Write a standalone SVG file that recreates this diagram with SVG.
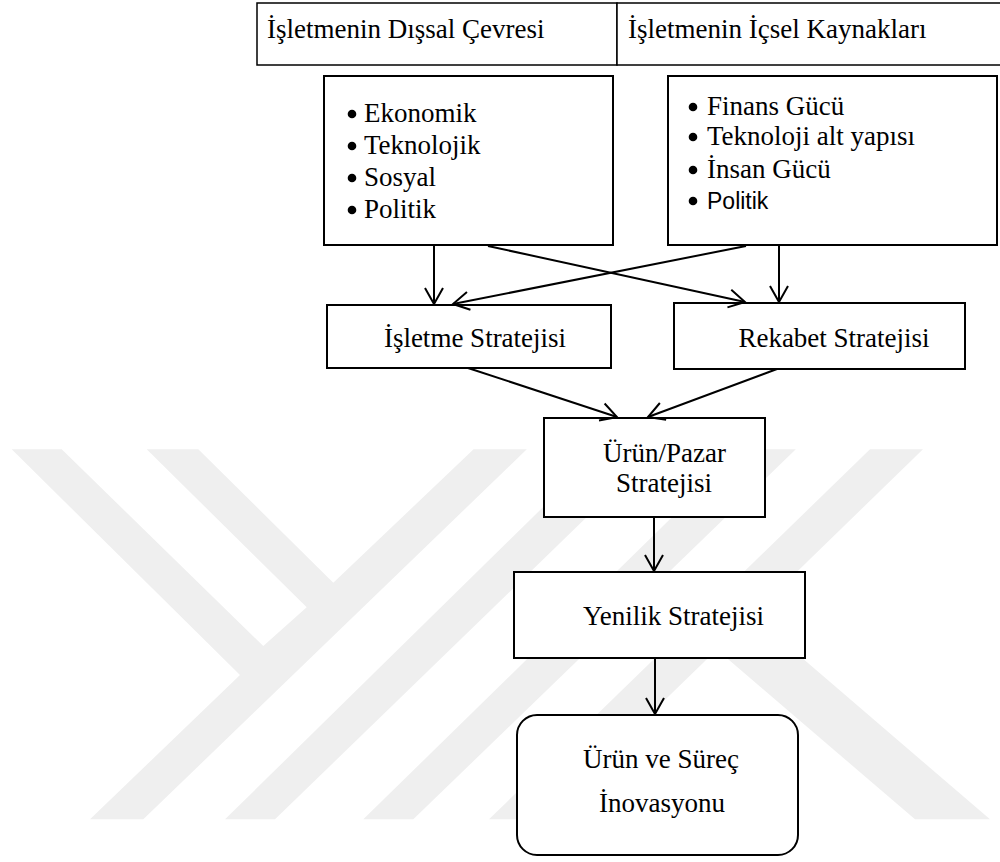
<svg xmlns="http://www.w3.org/2000/svg" width="1000" height="862" viewBox="0 0 1000 862">
<style>
.box{fill:#fff;stroke:#000;stroke-width:2}
.hdr{fill:#fff;stroke:#000;stroke-width:1.5}
.t{font-family:"Liberation Serif","Times New Roman",serif;font-size:27px;fill:#000}
.s{font-family:"Liberation Sans",Arial,sans-serif;font-size:23px;fill:#000}
.c{stroke:#000;stroke-width:2;fill:none;marker-end:url(#ah)}
.wm{fill:#efefef}
</style>
<defs>
<marker id="ah" viewBox="-18 -11 20 22" refX="0" refY="0" markerWidth="20" markerHeight="22" markerUnits="userSpaceOnUse" orient="auto">
<path d="M-16,-9 L0,0 L-16,9" fill="none" stroke="#000" stroke-width="2"/>
</marker>
</defs>
<rect width="1000" height="862" fill="#fff"/>
<g id="watermark">
<polygon class="wm" points="11.7,449.3 61.7,449.3 263.3,646 306.7,607.3 146.7,449.3 198.3,449.3 333.3,582.7 473.6,449.3 526.8,449.3 143.3,819.3 90,819.3 240,675"/>
<polygon class="wm" points="225,819.3 275,819.3 656.7,449.3 602,449.3"/>
<polygon class="wm" points="363.3,819.3 413.3,819.3 795.8,449.3 741.4,449.3"/>
<polygon class="wm" points="489,819.3 542,819.3 923,449.3 870,449.3"/>
<polygon class="wm" points="752,615 990,819.3 915,819.3 716.8,649.5"/>
</g>
<g id="header">
<rect class="hdr" x="257" y="3" width="360" height="62"/>
<rect class="hdr" x="617" y="3" width="390" height="62"/>
<text class="t" x="267" y="38">İşletmenin Dışsal Çevresi</text>
<text class="t" x="628" y="38">İşletmenin İçsel Kaynakları</text>
</g>
<g id="external">
<rect class="box" x="324" y="76" width="289" height="169"/>
<circle cx="352" cy="114" r="4.3"/>
<circle cx="352" cy="146" r="4.3"/>
<circle cx="352" cy="178" r="4.3"/>
<circle cx="352" cy="210" r="4.3"/>
<text class="t" x="364" y="122">Ekonomik</text>
<text class="t" x="364" y="154">Teknolojik</text>
<text class="t" x="364" y="186">Sosyal</text>
<text class="t" x="364" y="218">Politik</text>
</g>
<g id="internal">
<rect class="box" x="668" y="76" width="329" height="169"/>
<circle cx="693" cy="107" r="4.3"/>
<circle cx="693" cy="137" r="4.3"/>
<circle cx="693" cy="170" r="4.3"/>
<circle cx="693" cy="201" r="4.3"/>
<text class="t" x="707" y="115">Finans Gücü</text>
<text class="t" x="707" y="145">Teknoloji alt yapısı</text>
<text class="t" x="707" y="178">İnsan Gücü</text>
<text class="s" x="707" y="209">Politik</text>
</g>
<g id="isletme">
<rect class="box" x="327" y="305" width="284" height="63"/>
<text class="t" x="475" y="347" text-anchor="middle">İşletme Stratejisi</text>
</g>
<g id="rekabet">
<rect class="box" x="674" y="303" width="291" height="66"/>
<text class="t" x="834" y="347" text-anchor="middle">Rekabet Stratejisi</text>
</g>
<g id="urunpazar">
<rect class="box" x="544" y="418" width="221" height="99"/>
<text class="t" x="603" y="462">Ürün/Pazar</text>
<text class="t" x="616" y="492">Stratejisi</text>
</g>
<g id="yenilik">
<rect class="box" x="514" y="572" width="291" height="86"/>
<text class="t" x="583" y="625">Yenilik Stratejisi</text>
</g>
<g id="inovasyon">
<rect class="box" x="517" y="715" width="281" height="140" rx="20" ry="20"/>
<text class="t" x="583" y="768">Ürün ve Süreç</text>
<text class="t" x="599" y="812">İnovasyonu</text>
</g>
<g id="connectors">
<line class="c" x1="434" y1="245" x2="434" y2="304"/>
<line class="c" x1="779" y1="245" x2="779" y2="302"/>
<line class="c" x1="488" y1="246" x2="745" y2="302"/>
<line class="c" x1="746" y1="246" x2="453" y2="304"/>
<line class="c" x1="468" y1="368" x2="617" y2="417"/>
<line class="c" x1="777" y1="369" x2="648" y2="417"/>
<line class="c" x1="654" y1="517" x2="654" y2="571"/>
<line class="c" x1="655" y1="658" x2="655" y2="714"/>
</g>
</svg>
